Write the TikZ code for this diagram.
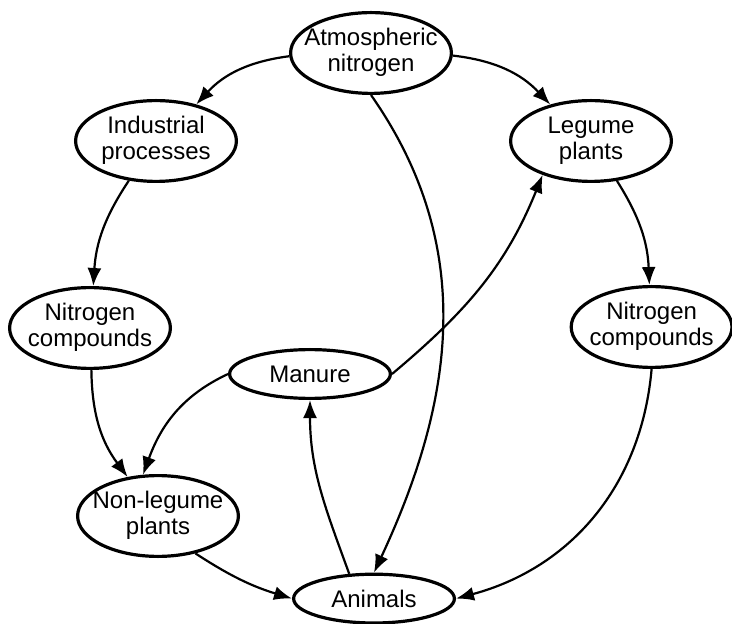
\documentclass[tikz,border=0pt]{standalone}
\usepackage{fontspec}
\setmainfont{Liberation Sans}
\usetikzlibrary{shapes.geometric, arrows.meta}
\newcommand{\ovaltext}[1]{\makebox[0pt]{\begin{tabular}{@{}c@{}}#1\end{tabular}}}

\begin{document}
\begin{tikzpicture}[x=1pt, y=1pt,
  oval/.style={ellipse, draw, line width=1.6pt, minimum width=80.4pt, minimum height=40.4pt, inner sep=0pt, font=\fontsize{12}{13}\selectfont},
  flat/.style={oval, minimum height=24.4pt},
  flow/.style={-{Latex[length=9pt, width=7pt]}, line width=1.1pt}]
\useasboundingbox (0,0) rectangle (366,-312);
\node [oval] (atm) at (185.5,-26.5) {\ovaltext{Atmospheric\\nitrogen}};
\node [oval] (ind) at (78,-70.5) {\ovaltext{Industrial\\processes}};
\node [oval] (leg) at (295.5,-70.5) {\ovaltext{Legume\\plants}};
\node [oval] (nl) at (45,-164) {\ovaltext{Nitrogen\\compounds}};
\node [oval] (nr) at (325.8,-163.5) {\ovaltext{Nitrogen\\compounds}};
\node [flat] (man) at (155,-187) {Manure};
\node [oval] (nonleg) at (79,-258) {\ovaltext{Non-legume\\plants}};
\node [flat] (ani) at (187,-299.3) {Animals};
\draw [flow] (atm) to[bend right=20] (ind);
\draw [flow] (atm) to[bend left=20] (leg);
\draw [flow] (atm.south) to[out=-55, in=65] (ani.north);
\draw [flow] (ind) to[bend right=15] (nl);
\draw [flow] (leg) to[bend left=15] (nr);
\draw [flow] (nl) to[bend right=18] (nonleg);
\draw [flow] (man.west) to[out=205, in=70] (nonleg.110);
\draw [flow] (man.east) to[out=40, in=-112] (leg.215);
\draw [flow] (ani.135) to[out=110, in=-90] (man.south);
\draw [flow] (nonleg.-45) to[bend right=8] (ani.west);
\draw [flow] (nr.south) to[out=-95, in=15] (ani.east);
\end{tikzpicture}
\end{document}
